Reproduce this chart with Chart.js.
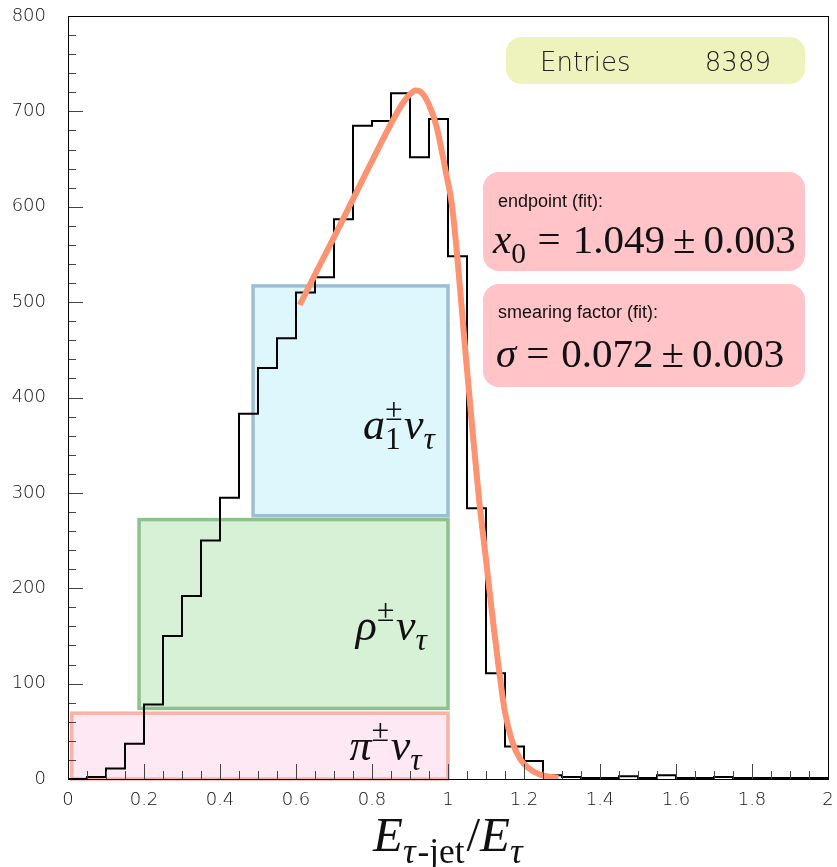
<!DOCTYPE html>
<html>
<head>
<meta charset="utf-8">
<script src="https://cdn.jsdelivr.net/npm/chart.js@4.4.1/dist/chart.umd.min.js"></script>
<style>
  html, body { margin: 0; padding: 0; background: #fff; }
  #wrap { width: 837px; height: 867px; }
</style>
</head>
<body>
<div id="wrap"><canvas id="histo" width="837" height="867"></canvas></div>
<script>
// histogram: 40 bins of width 0.05 between 0 and 2
const binWidth = 0.05;
const counts = [0, 2, 11, 37, 78, 150, 192, 250, 295, 383,
                431, 462, 510, 526, 587, 685, 690, 719, 652, 692,
                548, 284, 111, 34, 19, 4, 2, 1, 1, 3,
                1, 4, 1, 1, 2, 1, 1, 1, 1, 1];

// fitted curve, read point by point
const fitX = [0.61, 0.65, 0.70, 0.75, 0.80, 0.85, 0.88, 0.90, 0.915, 0.93,
              0.95, 0.97, 0.995, 1.01, 1.025, 1.045, 1.06, 1.08, 1.10, 1.12,
              1.135, 1.15, 1.17, 1.19, 1.21, 1.24, 1.29];
const fitY = [497, 529, 568, 608, 648, 687, 708, 718, 722, 720,
              707, 684, 635, 603, 545, 452, 385, 300, 230, 160,
              112, 70, 38, 21, 12, 5, 1];

// decay-channel bands
const bandNames = ["pi", "rho", "a1"];
const bandX0 = [0.01, 0.187, 0.487];
const bandX1 = [1.0, 1.0, 1.0];
const bandY0 = [0, 74, 276];
const bandY1 = [69, 272, 517];

const xTickLabels = ["0", "0.2", "0.4", "0.6", "0.8", "1", "1.2", "1.4", "1.6", "1.8", "2"];
const yTickLabels = ["0", "100", "200", "300", "400", "500", "600", "700", "800"];
const entries = 8389;
const endpoint = "1.049";
const endpointErr = "0.003";
const smearing = "0.072";
const smearingErr = "0.003";

const bandStyle = {
  pi:  { fill: "#fde8f4", line: "#f8b2a6", label: [["π", "i"], ["±", "sup"], ["ν", "i"], ["τ", "sub"]] },
  rho: { fill: "#d6f1d6", line: "#8ec18d", label: [["ρ", "i"], ["±", "sup"], ["ν", "i"], ["τ", "sub"]] },
  a1:  { fill: "#ddf7fd", line: "#9dbdd0", label: [["a", "i"], ["1", "subk", "r"], ["±", "sup"], ["ν", "i"], ["τ", "sub"]] }
};
const labelAnchor = { pi: [0.741, 20], rho: [0.757, 146], a1: [0.776, 357] };

// one point per bin edge, 'before' steps hold each bin's level up to the next edge
const histPoints = counts.map((c, i) => ({ x: i * binWidth, y: c }));
histPoints.push({ x: counts.length * binWidth, y: counts[counts.length - 1] });
const fitPoints = fitX.map((x, i) => ({ x: x, y: fitY[i] }));

const SERIF = '"Liberation Serif", "DejaVu Serif", serif';
const SANS = '"Liberation Sans", Arial, sans-serif';
const THIN = '"DejaVu Sans", "Liberation Sans", sans-serif';

// small TeX-like text: base / sub / sup pieces, "subk" = subscript stacked under next sup,
// "gap" = extra horizontal space in px
function drawMath(ctx, x, y, parts, size) {
  let cx = x, held = 0;
  parts.forEach(p => {
    const [t, kind, style] = p;
    if (kind === "gap") { cx += t; return; }
    const small = kind !== "i" && kind !== "r";
    const fs = small ? size * 0.72 : size;
    const italic = kind === "i" || (small && style !== "r");
    ctx.font = (italic ? "italic " : "") + fs + "px " + SERIF;
    let dy = 0;
    if (kind === "sub" || kind === "subk") dy = size * 0.24;
    if (kind === "sup") dy = -size * 0.42;
    ctx.fillText(t, cx, y + dy);
    const w = ctx.measureText(t).width;
    if (kind === "subk") { held = w; return; }
    cx += Math.max(w, held) + (small ? size * 0.04 : 0);
    held = 0;
  });
  return cx;
}

function roundRect(ctx, x, y, w, h, r, fill) {
  ctx.beginPath();
  ctx.moveTo(x + r, y);
  ctx.arcTo(x + w, y, x + w, y + h, r);
  ctx.arcTo(x + w, y + h, x, y + h, r);
  ctx.arcTo(x, y + h, x, y, r);
  ctx.arcTo(x, y, x + w, y, r);
  ctx.closePath();
  ctx.fillStyle = fill;
  ctx.fill();
}

const bandsPlugin = {
  id: "bands",
  beforeDatasetsDraw(chart) {
    const { ctx, scales: { x, y } } = chart;
    ctx.save();
    bandNames.forEach((n, i) => {
      const s = bandStyle[n];
      const l = x.getPixelForValue(bandX0[i]), r = x.getPixelForValue(bandX1[i]);
      const t = y.getPixelForValue(bandY1[i]), b = y.getPixelForValue(bandY0[i]);
      ctx.fillStyle = s.fill;
      ctx.fillRect(l, t, r - l, b - t);
      ctx.strokeStyle = s.line;
      ctx.lineWidth = 3.5;
      ctx.strokeRect(l, t, r - l, b - t);
    });
    ctx.fillStyle = "#111";
    ctx.textBaseline = "alphabetic";
    ctx.textAlign = "left";
    bandNames.forEach(n => {
      const a = labelAnchor[n];
      drawMath(ctx, x.getPixelForValue(a[0]), y.getPixelForValue(a[1]), bandStyle[n].label, 44);
    });
    ctx.restore();
  },
  afterDraw(chart) {
    const { ctx, chartArea: ca, scales: { x, y } } = chart;
    ctx.save();
    // ticks on the inner side of the left and bottom axes
    ctx.strokeStyle = "#444";
    ctx.lineWidth = 1;
    ctx.beginPath();
    for (let v = 0; v <= 800; v += 20) {
      const py = Math.round(y.getPixelForValue(v)) + 0.5;
      const len = v % 100 === 0 ? 15 : 8;
      ctx.moveTo(ca.left, py); ctx.lineTo(ca.left + len, py);
    }
    for (let k = 0; k <= 40; k++) {
      const px = Math.round(x.getPixelForValue(k * 0.05)) + 0.5;
      const len = k % 4 === 0 ? 15 : 8;
      ctx.moveTo(px, ca.bottom); ctx.lineTo(px, ca.bottom - len);
    }
    ctx.stroke();
    // frame
    ctx.strokeStyle = "#000";
    ctx.strokeRect(Math.round(ca.left) + 0.5, Math.round(ca.top) + 0.5,
                   Math.round(ca.right - ca.left), Math.round(ca.bottom - ca.top));

    // tick labels
    ctx.fillStyle = "#111";
    ctx.font = "200 18px " + THIN;
    ctx.textBaseline = "middle";
    ctx.textAlign = "right";
    yTickLabels.forEach(t => ctx.fillText(t, ca.left - 22, y.getPixelForValue(parseFloat(t))));
    ctx.textAlign = "center";
    xTickLabels.forEach(t => ctx.fillText(t, x.getPixelForValue(parseFloat(t)), ca.bottom + 21));

    // statistics box
    roundRect(ctx, 506, 37, 299, 47, 15, "#eef3bd");
    ctx.fillStyle = "#222";
    ctx.font = "200 26px " + THIN;
    ctx.textBaseline = "alphabetic";
    ctx.textAlign = "left";
    ctx.fillText("Entries", 540, 71);
    ctx.textAlign = "right";
    ctx.fillText(String(entries), 771, 71);
    ctx.textAlign = "left";

    // fit result boxes
    roundRect(ctx, 483, 172, 322, 99, 16, "#ffc3c8");
    roundRect(ctx, 483, 284, 322, 103, 16, "#ffc3c8");
    ctx.fillStyle = "#111";
    ctx.font = "18px " + SANS;
    ctx.fillText("endpoint (fit):", 498, 207);
    ctx.fillText("smearing factor (fit):", 498, 318);
    drawMath(ctx, 493, 253, [["x", "i"], ["0", "sub", "r"], [10, "gap"], ["=", "r"], [12, "gap"],
      [endpoint, "r"], [8, "gap"], ["±", "r"], [8, "gap"], [endpointErr, "r"]], 41);
    drawMath(ctx, 496, 367, [["σ", "i"], [10, "gap"], ["=", "r"], [12, "gap"],
      [smearing, "r"], [8, "gap"], ["±", "r"], [8, "gap"], [smearingErr, "r"]], 41);

    // axis title
    drawMath(ctx, 373, 851, [["E", "i"], ["τ", "sub"], ["-jet", "sub", "r"], ["/", "r"], ["E", "i"], ["τ", "sub"]], 49);
    ctx.restore();
  }
};

new Chart(document.getElementById("histo"), {
  type: "line",
  data: {
    datasets: [
      {
        label: "fit",
        data: fitPoints,
        borderColor: "#fd9371",
        borderWidth: 6,
        pointRadius: 0,
        cubicInterpolationMode: "monotone",
        fill: false,
        order: 0
      },
      {
        label: "histogram",
        data: histPoints,
        borderColor: "#000",
        borderWidth: 2,
        pointRadius: 0,
        stepped: "before",
        fill: false,
        order: 1
      }
    ]
  },
  options: {
    responsive: false,
    animation: false,
    events: [],
    layout: { padding: { top: 16, right: 9, left: 0, bottom: 0 } },
    plugins: { legend: { display: false }, tooltip: { enabled: false } },
    scales: {
      x: {
        type: "linear",
        min: 0,
        max: 2,
        grid: { display: false, drawTicks: false },
        border: { display: false },
        ticks: { display: false },
        afterFit: s => { s.height = 88; }
      },
      y: {
        min: 0,
        max: 800,
        grid: { display: false, drawTicks: false },
        border: { display: false },
        ticks: { display: false },
        afterFit: s => { s.width = 68; }
      }
    }
  },
  plugins: [bandsPlugin]
});
</script>
</body>
</html>
